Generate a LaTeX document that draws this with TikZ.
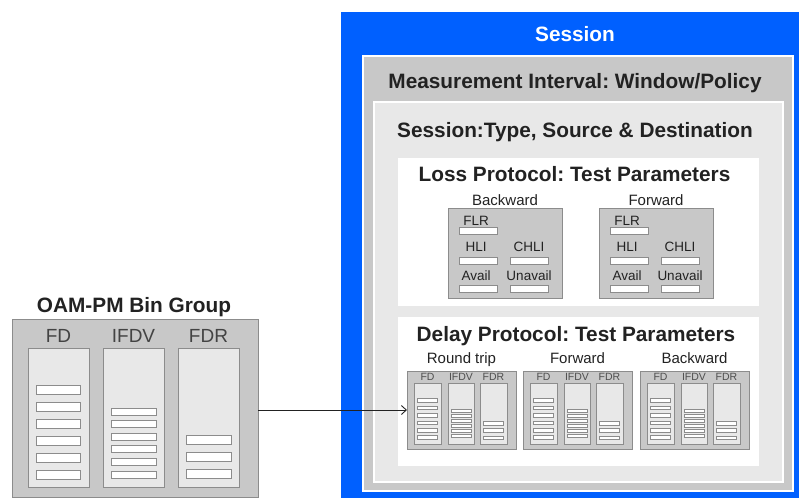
\documentclass[tikz,border=0pt]{standalone}
\usepackage{fontspec}
\setmainfont{Liberation Sans}
\usetikzlibrary{arrows.meta}
\frenchspacing
\definecolor{sessblue}{RGB}{0,96,255}
\definecolor{midgrey}{RGB}{200,200,200}
\definecolor{lightgrey}{RGB}{232,232,232}
\definecolor{edgegrey}{RGB}{140,140,140}
\definecolor{txt}{RGB}{34,34,34}
\newcommand\boxat[6]{\node[rbox,#6,minimum width={(#4)-(#2)},minimum height={(#5)-(#3)}] (#1) at (#2,#3) {};}
\tikzset{
  rbox/.style={anchor=north west, inner sep=0pt, outer sep=0pt},
  title/.style={anchor=base, inner sep=0pt, text=txt, font=\bfseries\fontsize{20.8}{24}\selectfont},
  sublbl/.style={anchor=base, inner sep=0pt, text=txt, font=\fontsize{15}{18}\selectfont},
  smalllbl/.style={anchor=base, inner sep=0pt, text=txt, font=\fontsize{13.5}{15}\selectfont},
  tinylbl/.style={anchor=base, inner sep=0pt, text=txt!80, font=\fontsize{10.5}{12}\selectfont},
  binlbl/.style={anchor=base, inner sep=0pt, text=txt!85, font=\fontsize{19}{22}\selectfont},
  greybox/.style={fill=midgrey, draw=edgegrey, line width=1pt},
  colbox/.style={fill=lightgrey, draw=edgegrey, line width=1pt},
  bar/.style={fill=white, draw=edgegrey, line width=0.8pt, inner sep=0pt, outer sep=0pt},
  arrowline/.style={draw=txt, line width=0.9pt, -{Straight Barb[length=5pt,width=9pt]}}
}
\begin{document}
\begin{tikzpicture}[x=1pt,y=-1pt]
\useasboundingbox (0,0) rectangle (799,498);
% nested frames
\boxat{session}{341}{12}{799}{498}{fill=sessblue}
\boxat{interval}{363}{56}{793}{491}{fill=midgrey,draw=white,line width=2pt}
\boxat{stype}{373.5}{101.5}{782.5}{481.5}{fill=lightgrey,draw=white,line width=2pt}
\boxat{loss}{398}{158}{759}{306}{fill=white}
\boxat{delay}{398}{317}{759}{466}{fill=white}
% titles
\node[title, text=white] (t-session) at (575,41.7) {Session};
\node[title] (t-interval) at (575,88.3) {Measurement Interval: Window/Policy};
\node[title] (t-stype) at (575,137.7) {Session:Type, Source \& Destination};
\node[title] (t-loss) at (574.5,181.7) {Loss Protocol: Test Parameters};
\node[title] (t-delay) at (576,341.7) {Delay Protocol: Test Parameters};
% loss boxes
\foreach \nm/\x/\lab in {lb/448/Backward, lf/599/Forward}{
  \boxat{\nm}{\x}{208}{\x+114}{298}{greybox}
  \node[sublbl] (\nm-label) at (\x+57,205) {\lab};
  \node[smalllbl] (\nm-flrl) at (\x+28,225) {FLR};
  \node[smalllbl] (\nm-hlil) at (\x+28,251.7) {HLI};
  \node[smalllbl] (\nm-chlil) at (\x+81,251.7) {CHLI};
  \node[smalllbl] (\nm-availl) at (\x+28,280.7) {Avail};
  \node[smalllbl] (\nm-unavl) at (\x+81,280.7) {Unavail};
  \node[bar, minimum width=38, minimum height=7] (\nm-flr) at (\x+30,230.5) {};
  \node[bar, minimum width=38, minimum height=7] (\nm-hli) at (\x+30,260.5) {};
  \node[bar, minimum width=38, minimum height=7] (\nm-chli) at (\x+81,260.5) {};
  \node[bar, minimum width=38, minimum height=7] (\nm-avail) at (\x+30,288.5) {};
  \node[bar, minimum width=38, minimum height=7] (\nm-unav) at (\x+81,288.5) {};
}
% delay boxes
\foreach \nm/\x/\lab in {rt/407/Round trip, df/523/Forward, db/640/Backward}{
  \boxat{\nm}{\x}{371}{\x+109}{449}{greybox}
  \node[sublbl] (\nm-label) at (\x+54.5,363) {\lab};
  \boxat{\nm-fd}{\x+7}{383}{\x+34}{444}{colbox}
  \boxat{\nm-ifdv}{\x+41}{383}{\x+67}{444}{colbox}
  \boxat{\nm-fdr}{\x+73}{383}{\x+100}{444}{colbox}
  \node[tinylbl] (\nm-fdl) at (\x+20.5,380.7) {FD};
  \node[tinylbl] (\nm-ifdvl) at (\x+54,380.7) {IFDV};
  \node[tinylbl] (\nm-fdrl) at (\x+86.5,380.7) {FDR};
  \foreach \i in {0,...,5}{
    \node[bar, line width=0.6pt, minimum width=20, minimum height=3.6] (\nm-fdb\i) at (\x+20.5,400.5+7.4*\i) {};
    \node[bar, line width=0.6pt, minimum width=20, minimum height=3] (\nm-ifdvb\i) at (\x+54,410.5+5.1*\i) {};
  }
  \foreach \i in {0,1,2}{
    \node[bar, line width=0.6pt, minimum width=20, minimum height=3.6] (\nm-fdrb\i) at (\x+86.5,423+7.3*\i) {};
  }
}
% bin group
\node[title] (t-bins) at (134,312.3) {OAM-PM Bin Group};
\boxat{bins}{12}{319}{258}{497}{greybox}
\boxat{bins-fd}{28}{348}{89}{487}{colbox}
\boxat{bins-ifdv}{103}{348}{164}{487}{colbox}
\boxat{bins-fdr}{178}{348}{239}{487}{colbox}
\node[binlbl] (bins-fdl) at (58.5,342.7) {FD};
\node[binlbl] (bins-ifdvl) at (133.5,342.7) {IFDV};
\node[binlbl] (bins-fdrl) at (208.5,342.7) {FDR};
\foreach \i in {0,...,5}{
  \node[bar, minimum width=44, minimum height=9] (bins-fdb\i) at (58.5,389.5+17*\i) {};
  \node[bar, minimum width=45, minimum height=7] (bins-ifdvb\i) at (133.5,411.5+12.6*\i) {};
}
\foreach \i in {0,1,2}{
  \node[bar, minimum width=45, minimum height=9] (bins-fdrb\i) at (208.5,440+17*\i) {};
}
% connector
\draw[arrowline] (bins.east |- rt.west) -- (rt.west);
\end{tikzpicture}
\end{document}
